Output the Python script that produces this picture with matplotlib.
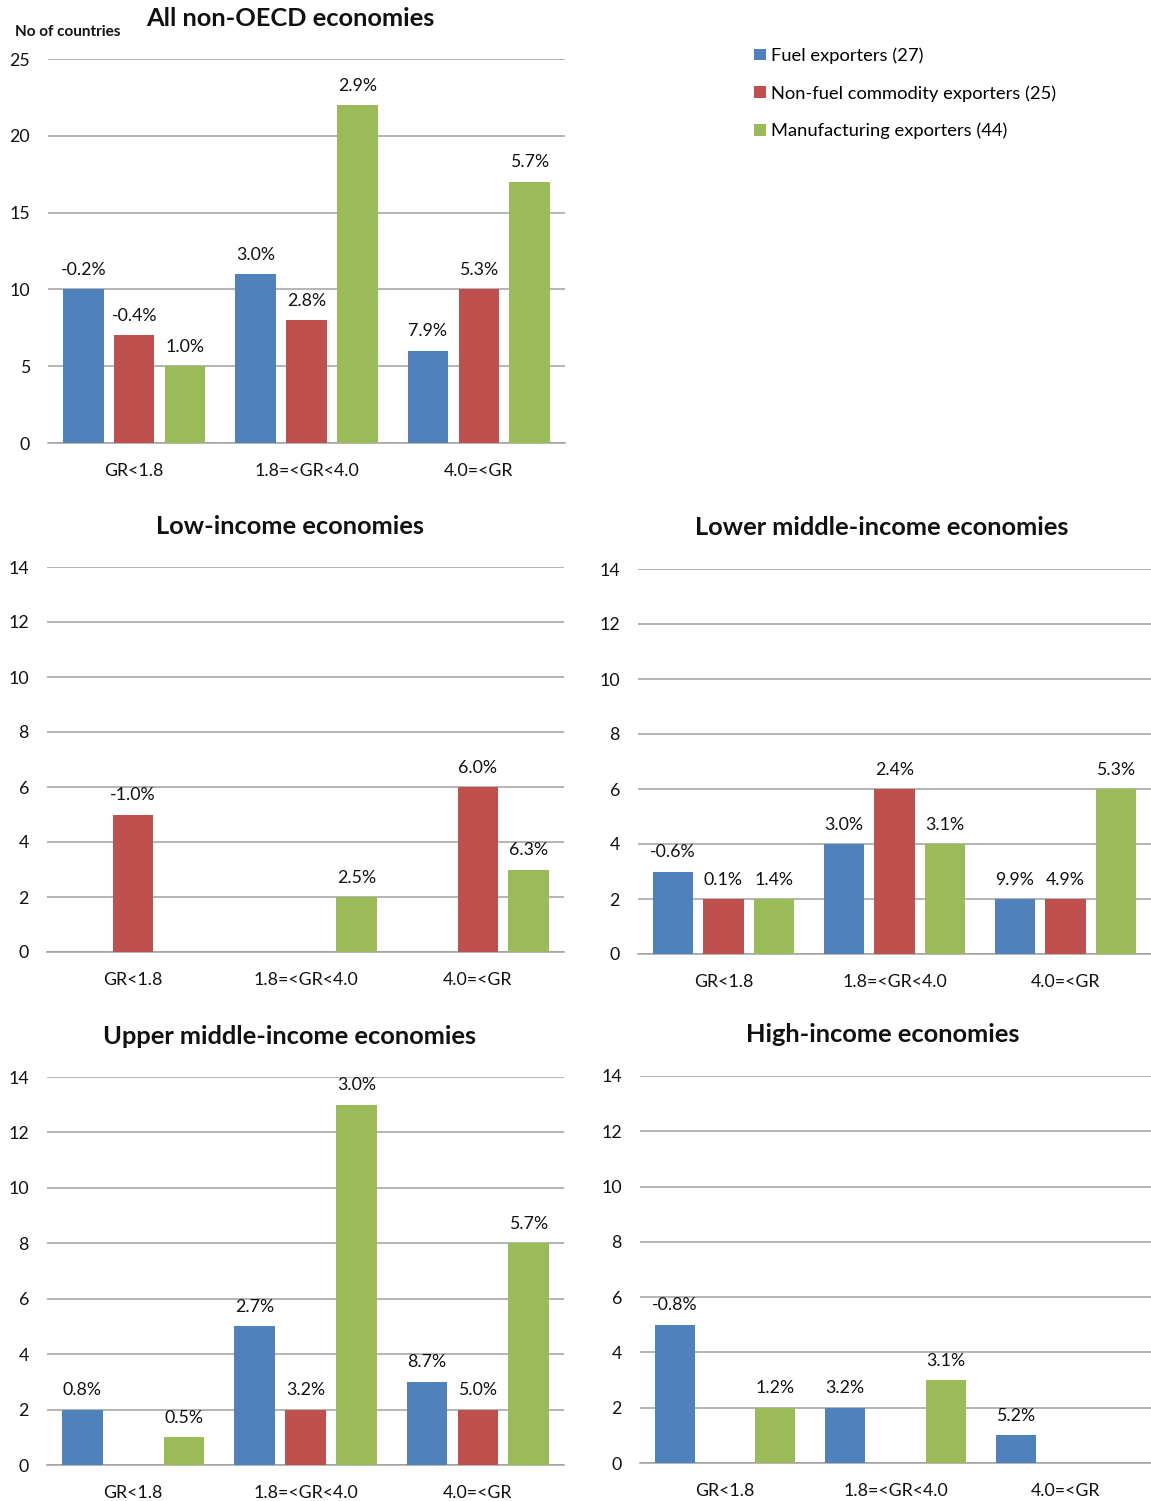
import matplotlib
matplotlib.use("Agg")
import matplotlib.pyplot as plt
import numpy as np
from matplotlib.patches import Patch

plt.rcParams['font.family'] = ['Lato', 'DejaVu Sans']

categories = ["GR<1.8", "1.8=<GR<4.0", "4.0=<GR"]
series_names = ["Fuel exporters (27)", "Non-fuel commodity exporters (25)",
                "Manufacturing exporters (44)"]
colors = ["#4F81BD", "#C0504D", "#9BBB59"]

# Number of countries per growth band, and median growth labels
all_fuel = [10, 11, 6]
all_fuel_lbl = ["-0.2%", "3.0%", "7.9%"]
all_nonfuel = [7, 8, 10]
all_nonfuel_lbl = ["-0.4%", "2.8%", "5.3%"]
all_manuf = [5, 22, 17]
all_manuf_lbl = ["1.0%", "2.9%", "5.7%"]

low_fuel = [0, 0, 0]
low_fuel_lbl = ["", "", ""]
low_nonfuel = [5, 0, 6]
low_nonfuel_lbl = ["-1.0%", "", "6.0%"]
low_manuf = [0, 2, 3]
low_manuf_lbl = ["", "2.5%", "6.3%"]

lmid_fuel = [3, 4, 2]
lmid_fuel_lbl = ["-0.6%", "3.0%", "9.9%"]
lmid_nonfuel = [2, 6, 2]
lmid_nonfuel_lbl = ["0.1%", "2.4%", "4.9%"]
lmid_manuf = [2, 4, 6]
lmid_manuf_lbl = ["1.4%", "3.1%", "5.3%"]

umid_fuel = [2, 5, 3]
umid_fuel_lbl = ["0.8%", "2.7%", "8.7%"]
umid_nonfuel = [0, 2, 2]
umid_nonfuel_lbl = ["", "3.2%", "5.0%"]
umid_manuf = [1, 13, 8]
umid_manuf_lbl = ["0.5%", "3.0%", "5.7%"]

high_fuel = [5, 2, 1]
high_fuel_lbl = ["-0.8%", "3.2%", "5.2%"]
high_nonfuel = [0, 0, 0]
high_nonfuel_lbl = ["", "", ""]
high_manuf = [2, 3, 0]
high_manuf_lbl = ["1.2%", "3.1%", ""]

W, H = 1151, 1501
fig = plt.figure(figsize=(W / 100, H / 100), dpi=100)


def make_axes(left, right, top, bottom):
    return fig.add_axes([left / W, 1 - bottom / H, (right - left) / W, (bottom - top) / H])


def draw_panel(ax, title, title_xy, ymax, step, data, labels):
    x = np.arange(len(categories))
    width = 0.235
    offsets = [-0.295, 0.0, 0.295]
    for vals, lbls, col, off in zip(data, labels, colors, offsets):
        bars = ax.bar(x + off, vals, width, color=col, zorder=3)
        for b, v, t in zip(bars, vals, lbls):
            if t:
                ax.annotate(t, (b.get_x() + b.get_width() / 2, v),
                            xytext=(0, 14), textcoords="offset points",
                            ha="center", va="center", fontsize=12.8, color="#111111")
    ax.set_xlim(-0.5, 2.5)
    ax.set_ylim(0, ymax)
    ax.set_yticks(np.arange(0, ymax + 0.1, step))
    ax.yaxis.grid(True, color="#A0A0A0", linewidth=1.1, zorder=0)
    ax.set_axisbelow(True)
    for s in ["top", "right", "left"]:
        ax.spines[s].set_visible(False)
    ax.spines["bottom"].set_color("#A0A0A0")
    ax.spines["bottom"].set_linewidth(1.1)
    ax.set_xticks(x)
    ax.set_xticklabels(categories)
    ax.tick_params(axis="both", length=0, labelsize=12.8, colors="#111111")
    ax.tick_params(axis="y", pad=13)
    ax.tick_params(axis="x", pad=14.5)
    fig.text(title_xy[0] / W, 1 - title_xy[1] / H, title, ha="center", va="center",
             fontsize=18.3, fontweight="bold", color="#111111")


ax1 = make_axes(48, 565, 59, 443)
draw_panel(ax1, "All non-OECD economies", (290, 18), 25, 5,
           [all_fuel, all_nonfuel, all_manuf],
           [all_fuel_lbl, all_nonfuel_lbl, all_manuf_lbl])
fig.text(15 / W, 1 - 32 / H, "No of countries", ha="left", va="center",
         fontsize=11, fontweight="bold", color="#111111")

ax2 = make_axes(47, 564, 567, 952)
draw_panel(ax2, "Low-income economies", (290, 526), 14, 2,
           [low_fuel, low_nonfuel, low_manuf],
           [low_fuel_lbl, low_nonfuel_lbl, low_manuf_lbl])

ax3 = make_axes(638, 1151, 569, 954)
draw_panel(ax3, "Lower middle-income economies", (882, 528), 14, 2,
           [lmid_fuel, lmid_nonfuel, lmid_manuf],
           [lmid_fuel_lbl, lmid_nonfuel_lbl, lmid_manuf_lbl])

ax4 = make_axes(47, 564, 1077, 1465)
draw_panel(ax4, "Upper middle-income economies", (290, 1036), 14, 2,
           [umid_fuel, umid_nonfuel, umid_manuf],
           [umid_fuel_lbl, umid_nonfuel_lbl, umid_manuf_lbl])

ax5 = make_axes(640, 1151, 1076, 1463)
draw_panel(ax5, "High-income economies", (883, 1035), 14, 2,
           [high_fuel, high_nonfuel, high_manuf],
           [high_fuel_lbl, high_nonfuel_lbl, high_manuf_lbl])

handles = [Patch(facecolor=c, edgecolor="none") for c in colors]
fig.legend(handles, series_names, loc="upper left",
           bbox_to_anchor=(747 / W, 1 - 40 / H), frameon=False,
           fontsize=13.2, handlelength=0.62, handleheight=0.62,
           handletextpad=0.3, labelspacing=1.15, borderaxespad=0)

fig.savefig("out.png", dpi=100, facecolor="white")
